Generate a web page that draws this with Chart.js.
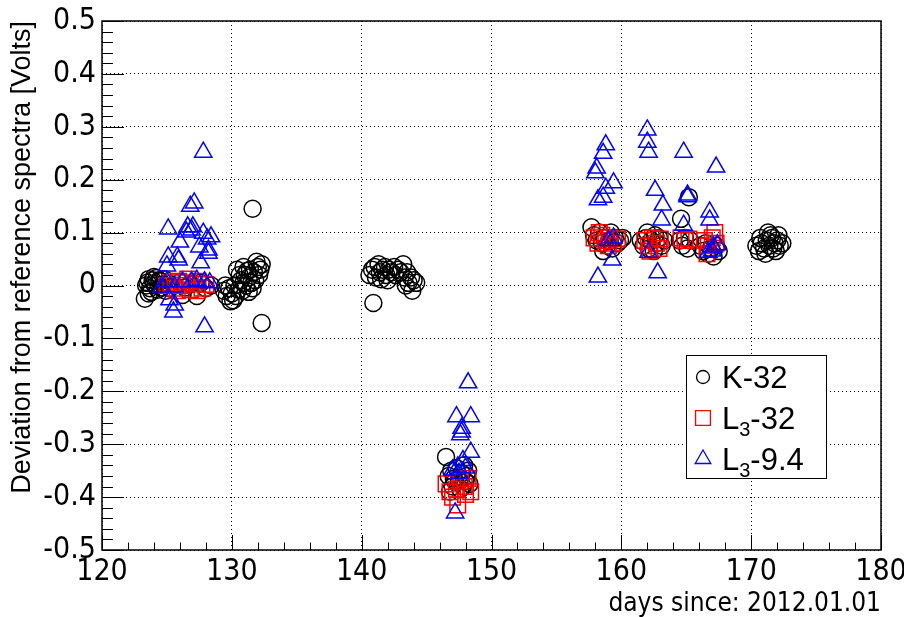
<!DOCTYPE html>
<html>
<head>
<meta charset="utf-8">
<title>Deviation from reference spectra</title>
<script src="https://cdn.jsdelivr.net/npm/chart.js@4.4.1/dist/chart.umd.min.js"></script>
<style>
  html, body { margin: 0; padding: 0; background: #fff; }
  canvas { display: block; }
</style>
</head>
<body>
<canvas id="grafico" width="904" height="617"></canvas>
<script>
// K-32 (circulos pretos)
const k32Day = [
  123.3, 123.5, 123.7, 123.9, 124.1, 124.3, 124.5, 124.7, 124.9, 123.6, 124.2, 124.8, 125.2, 125.6, 126.0, 126.4, 126.8, 127.3, 127.6, 128.0, 128.4, 126.2,
  123.4, 123.8, 124.0, 124.4, 124.6, 123.6, 124.0,
  129.4, 129.6, 129.8, 130.0, 130.2, 130.3, 130.5, 130.7, 130.8, 131.0, 131.1, 131.3, 131.4, 131.5, 131.7, 131.8, 132.0, 132.1, 132.3, 130.9, 131.6, 130.4, 131.6, 132.3,
  129.5, 130.1, 130.6, 131.2, 131.9, 132.2, 130.9, 131.3, 129.9,
  140.6, 140.8, 141.0, 141.1, 141.3, 141.4, 141.6, 141.8, 141.9, 142.1, 142.3, 142.5, 142.6, 142.8, 143.0, 143.2, 143.3, 143.5, 143.6, 143.8, 144.0, 144.2, 143.9, 143.4, 140.9, 142.0, 141.5,
  146.5, 146.7, 146.9, 147.1, 147.3, 147.5, 147.7, 147.9, 148.1, 148.3, 147.0, 147.6, 148.0, 146.8, 147.2, 147.8, 148.2,
  157.7, 157.9, 158.1, 158.3, 158.5, 158.7, 158.9, 159.1, 159.3, 159.5, 159.7, 159.9, 160.1, 158.6, 159.2,
  161.5, 161.7, 161.9, 162.1, 162.3, 162.5, 162.7, 162.9, 163.1, 163.3, 162.0, 162.6,
  164.6, 164.5, 164.7, 164.9, 165.1, 165.3, 165.2,
  166.1, 166.3, 166.5, 166.7, 166.9, 167.1, 167.3, 167.5,
  170.4, 170.6, 170.8, 171.0, 171.2, 171.4, 171.6, 171.8, 172.0, 172.2, 172.4, 171.1, 171.5, 171.9, 170.7, 171.3, 172.1, 171.7
];
const k32Dev = [
  -0.025, 0.005, -0.005, 0.01, 0.0, -0.008, 0.008, 0.002, -0.01, 0.012, 0.014, 0.012, -0.005, 0.0, 0.006, -0.004, 0.003, -0.02, 0.005, -0.005, 0.0, -0.018,
  0.0, -0.012, 0.004, 0.01, -0.004, -0.015, 0.016,
  -0.01, -0.02, -0.005, -0.015, 0.0, -0.02, -0.008, 0.01, -0.01, 0.02, 0.0, 0.015, 0.03, 0.005, 0.025, 0.01, 0.035, 0.02, 0.04, 0.035, -0.005, 0.03, 0.145, -0.071,
  0.0, -0.028, 0.02, 0.028, 0.045, 0.03, 0.005, -0.012, -0.03,
  0.02, 0.03, 0.035, 0.015, 0.04, 0.025, 0.03, 0.035, 0.02, 0.03, 0.025, 0.035, 0.02, 0.03, 0.025, 0.04, 0.015, 0.025, 0.005, 0.015, 0.01, 0.005, -0.01, 0.0, -0.033, 0.01, 0.012,
  -0.324, -0.36, -0.35, -0.365, -0.345, -0.37, -0.355, -0.34, -0.36, -0.375, -0.38, -0.385, -0.37, -0.39, -0.37, -0.38, -0.35,
  0.11, 0.095, 0.085, 0.1, 0.08, 0.09, 0.075, 0.085, 0.07, 0.09, 0.08, 0.085, 0.09, 0.065, 0.1,
  0.085, 0.075, 0.09, 0.07, 0.085, 0.065, 0.08, 0.09, 0.075, 0.085, 0.1, 0.095,
  0.126, 0.085, 0.075, 0.09, 0.07, 0.085, 0.167,
  0.075, 0.065, 0.08, 0.06, 0.07, 0.055, 0.075, 0.065,
  0.075, 0.065, 0.08, 0.07, 0.085, 0.075, 0.09, 0.08, 0.085, 0.075, 0.08, 0.06, 0.095, 0.065, 0.09, 0.1, 0.095, 0.07
];

// L3-32 (quadrados vermelhos)
const l332Day = [
  125.0, 125.3, 125.6, 125.9, 126.2, 126.5, 126.8, 127.1, 127.4, 127.7, 128.0, 125.8, 126.6, 127.3,
  146.5, 146.8, 147.0, 147.3, 147.6, 147.9, 148.2, 148.4, 147.4, 148.0,
  157.9, 158.2, 158.5, 158.8, 159.1, 159.4, 159.7, 158.3, 159.0,
  161.8, 162.1, 162.4, 162.7, 163.0, 162.2, 162.9,
  164.6, 164.9, 165.2,
  166.4, 166.7, 167.0, 167.3, 166.6, 167.2
];
const l332Dev = [
  0.0, 0.005, -0.005, 0.008, 0.0, 0.005, -0.008, 0.003, 0.008, -0.005, 0.002, -0.01, 0.012, -0.01,
  -0.375, -0.39, -0.4, -0.385, -0.37, -0.38, -0.365, -0.39, -0.415, -0.395,
  0.09, 0.08, 0.095, 0.085, 0.09, 0.08, 0.088, 0.1, 0.075,
  0.085, 0.075, 0.09, 0.08, 0.088, 0.065, 0.07,
  0.09, 0.085, 0.088,
  0.085, 0.075, 0.09, 0.08, 0.06, 0.1
];

// L3-9.4 (triangulos azuis)
const l394Day = [
  127.8, 127.1, 126.8, 125.1, 126.6, 127.0, 126.5, 126.9, 127.8, 128.4, 128.1, 126.0, 127.5, 128.2, 128.2, 125.1,
  125.9, 125.8, 125.0, 127.6, 125.0, 126.2, 126.9, 127.3, 127.9, 128.3, 124.6, 125.6, 125.2, 125.6, 125.5, 127.9,
  148.2, 147.3, 148.4, 147.6, 147.7, 147.7, 148.4, 147.8, 147.0, 147.4, 147.2, 147.5, 148.0,
  158.8, 158.6, 158.1, 158.0, 159.4, 158.8, 158.2, 158.6, 159.4, 159.3, 158.2, 159.0,
  162.0, 162.0, 162.1, 162.6, 163.2, 163.1, 162.1, 162.8,
  164.8, 165.1, 165.1, 164.8,
  167.3, 166.8, 166.8, 166.7, 167.1, 167.4, 167.0
];
const l394Dev = [
  0.252, 0.156, 0.150, 0.107, 0.111, 0.111, 0.101, 0.105, 0.099, 0.092, 0.088, 0.082, 0.073, 0.067, 0.061, 0.054,
  0.048, 0.054, 0.037, 0.043, 0.007, 0.007, 0.007, 0.010, 0.007, 0.005, -0.003, -0.003, -0.027, -0.037, -0.050, -0.078,
  -0.184, -0.248, -0.248, -0.282, -0.277, -0.270, -0.315, -0.331, -0.349, -0.343, -0.430, -0.355, -0.345,
  0.266, 0.250, 0.222, 0.213, 0.194, 0.184, 0.162, 0.167, 0.090, 0.048, 0.016, 0.085,
  0.294, 0.271, 0.252, 0.180, 0.152, 0.124, 0.063, 0.024,
  0.252, 0.171, 0.168, 0.114,
  0.224, 0.139, 0.124, 0.063, 0.073, 0.077, 0.065
];

// eixos
const xTickValues = [120, 130, 140, 150, 160, 170, 180];
const xTickLabels = ['120', '130', '140', '150', '160', '170', '180'];
const yTickValues = [-0.5, -0.4, -0.3, -0.2, -0.1, 0, 0.1, 0.2, 0.3, 0.4, 0.5];
const yTickLabels = ['-0.5', '-0.4', '-0.3', '-0.2', '-0.1', '0', '0.1', '0.2', '0.3', '0.4', '0.5'];

const fonteNarrow = "'Liberation Sans Narrow', 'Arial Narrow', 'DejaVu Sans Condensed', 'Liberation Sans', sans-serif";
const fonteNormal = "'Liberation Sans', Arial, Helvetica, sans-serif";

function pontos(dias, valores) {
    return dias.map((d, i) => ({ x: d, y: valores[i] }));
}

function desenharMarcador(ctx, estilo, x, y, r) {
    ctx.beginPath();
    if (estilo === 'circle') {
        ctx.arc(x, y, r, 0, Math.PI * 2);
    } else if (estilo === 'rect') {
        const s = r * Math.SQRT1_2;
        ctx.rect(x - s, y - s, 2 * s, 2 * s);
    } else {
        ctx.moveTo(x, y - r);
        ctx.lineTo(x + r * Math.sin(Math.PI * 2 / 3), y - r * Math.cos(Math.PI * 2 / 3));
        ctx.lineTo(x + r * Math.sin(Math.PI * 4 / 3), y - r * Math.cos(Math.PI * 4 / 3));
        ctx.closePath();
    }
    ctx.stroke();
}

// ticks para dentro + moldura, estilo ROOT
const molduraPlugin = {
    id: 'moldura',
    afterDraw(chart) {
        const { ctx, chartArea: a, scales: { x, y } } = chart;
        ctx.save();
        ctx.strokeStyle = '#000';
        ctx.lineWidth = 1;
        ctx.beginPath();
        for (let d = 120; d <= 180; d += 2) {
            const px = Math.round(x.getPixelForValue(d)) + 0.5;
            const len = d % 10 === 0 ? 15 : 7.5;
            ctx.moveTo(px, a.bottom);
            ctx.lineTo(px, a.bottom - len);
        }
        for (let i = -25; i <= 25; i++) {
            const py = Math.round(y.getPixelForValue(i / 50)) + 0.5;
            const len = i % 5 === 0 ? 22 : 11;
            ctx.moveTo(a.left, py);
            ctx.lineTo(a.left + len, py);
        }
        ctx.stroke();
        ctx.lineWidth = 1.5;
        ctx.strokeRect(a.left, a.top, a.right - a.left, a.bottom - a.top);
        ctx.restore();
    }
};

// legenda com subscrito
const legendaPlugin = {
    id: 'legendaRoot',
    afterDraw(chart) {
        const ctx = chart.ctx;
        const bx = 686, by = 355, bw = 140, bh = 123;
        ctx.save();
        ctx.fillStyle = '#fff';
        ctx.fillRect(bx, by, bw, bh);
        ctx.strokeStyle = '#000';
        ctx.lineWidth = 1;
        ctx.strokeRect(bx + 0.5, by + 0.5, bw, bh);

        const ordem = [2, 1, 0];
        ordem.forEach((idx, linha) => {
            const ds = chart.data.datasets[idx];
            const cy = by + 22 + linha * 41;
            ctx.strokeStyle = ds.borderColor;
            ctx.lineWidth = 1.3;
            desenharMarcador(ctx, ds.pointStyle, bx + 17, cy, ds.legendRadius);

            const partes = ds.label.split('_');
            let tx = bx + 36;
            const base = cy + 11;
            ctx.fillStyle = '#000';
            ctx.textBaseline = 'alphabetic';
            ctx.textAlign = 'left';
            ctx.font = '31px ' + fonteNormal;
            ctx.fillText(partes[0], tx, base);
            tx += ctx.measureText(partes[0]).width;
            if (partes.length > 1) {
                const sub = partes[1].charAt(0);
                const resto = partes[1].slice(1);
                ctx.font = '20px ' + fonteNormal;
                ctx.fillText(sub, tx, base + 7);
                tx += ctx.measureText(sub).width;
                ctx.font = '31px ' + fonteNormal;
                ctx.fillText(resto, tx, base);
            }
        });
        ctx.restore();
    }
};

const ctxGrafico = document.getElementById('grafico').getContext('2d');

new Chart(ctxGrafico, {
    type: 'scatter',
    data: {
        datasets: [
            {
                label: 'L_3-9.4',
                data: pontos(l394Day, l394Dev),
                pointStyle: 'triangle',
                pointRadius: 10,
                legendRadius: 9,
                pointBorderWidth: 1.5,
                borderColor: 'rgb(0,0,255)',
                backgroundColor: 'rgba(0,0,0,0)',
                order: 1
            },
            {
                label: 'L_3-32',
                data: pontos(l332Day, l332Dev),
                pointStyle: 'rect',
                pointRadius: 11,
                legendRadius: 10.5,
                pointBorderWidth: 1.5,
                borderColor: 'rgb(255,0,0)',
                backgroundColor: 'rgba(0,0,0,0)',
                order: 2
            },
            {
                label: 'K-32',
                data: pontos(k32Day, k32Dev),
                pointStyle: 'circle',
                pointRadius: 8.5,
                legendRadius: 6.5,
                pointBorderWidth: 1.5,
                borderColor: '#000',
                backgroundColor: 'rgba(0,0,0,0)',
                order: 3
            }
        ]
    },
    options: {
        responsive: false,
        animation: false,
        events: [],
        layout: { padding: { top: 21, right: 23, left: 0, bottom: 0 } },
        plugins: {
            legend: { display: false },
            tooltip: { enabled: false }
        },
        scales: {
            x: {
                type: 'linear',
                min: 120,
                max: 180,
                afterBuildTicks: (s) => { s.ticks = xTickValues.map(v => ({ value: v })); },
                afterFit: (s) => {
                    s.height = 67;
                    s.paddingLeft = 0;
                    s.paddingRight = 0;
                },
                ticks: {
                    color: '#000',
                    padding: 4,
                    maxRotation: 0,
                    font: { family: fonteNarrow, size: 30 },
                    callback: (v, i) => xTickLabels[i]
                },
                grid: { color: '#000', lineWidth: 1, drawTicks: false, borderDash: [1, 3] },
                border: { display: false, dash: [1, 3] },
                title: {
                    display: true,
                    text: 'days since: 2012.01.01',
                    align: 'end',
                    color: '#000',
                    font: { family: fonteNarrow, size: 26 },
                    padding: { top: 0, bottom: -3 }
                }
            },
            y: {
                type: 'linear',
                min: -0.5,
                max: 0.5,
                afterBuildTicks: (s) => { s.ticks = yTickValues.map(v => ({ value: v })); },
                afterFit: (s) => {
                    s.width = 102;
                    s.paddingTop = 0;
                    s.paddingBottom = 0;
                },
                ticks: {
                    color: '#000',
                    padding: 6,
                    font: { family: fonteNarrow, size: 30 },
                    callback: (v, i) => yTickLabels[i]
                },
                grid: { color: '#000', lineWidth: 1, drawTicks: false, borderDash: [1, 3] },
                border: { display: false, dash: [1, 3] },
                title: {
                    display: true,
                    text: 'Deviation from reference spectra [Volts]',
                    align: 'end',
                    color: '#000',
                    font: { family: fonteNormal, size: 27 },
                    padding: { top: 6, bottom: 0 }
                }
            }
        }
    },
    plugins: [molduraPlugin, legendaPlugin]
});
</script>
</body>
</html>
